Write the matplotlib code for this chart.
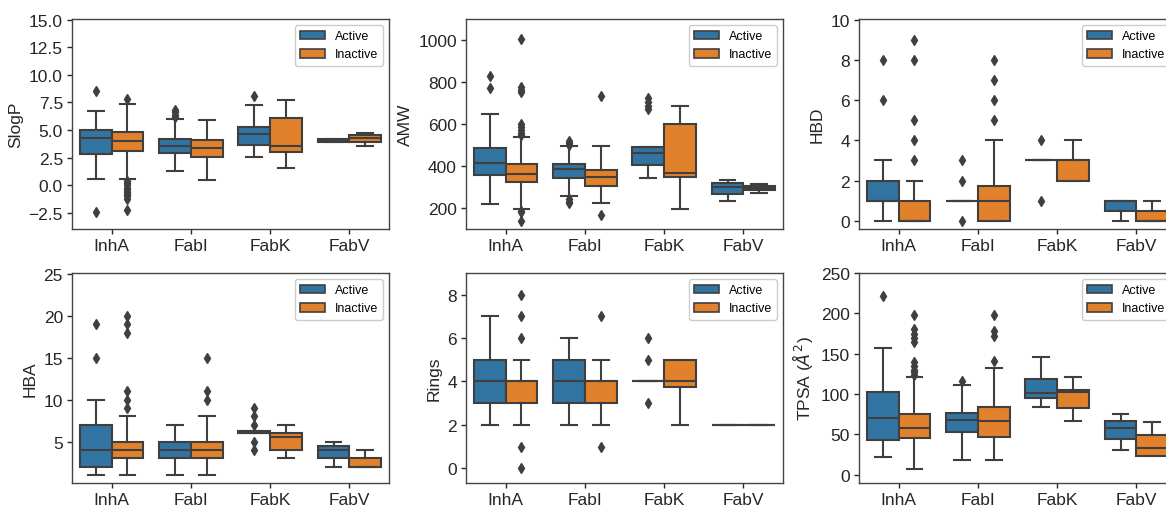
import matplotlib
matplotlib.use("Agg")
import matplotlib.pyplot as plt
from matplotlib.patches import Patch

plt.rcParams["font.family"] = ["Liberation Sans", "DejaVu Sans"]

TARGETS = ["InhA", "FabI", "FabK", "FabV"]
HUES = ["Active", "Inactive"]

# per target: q1, median, q3, whisker low, whisker high
slogp_act = [[2.87, 4.27, 5.05, 0.56, 6.71], [2.94, 3.57, 4.20, 1.34, 5.98],
             [3.63, 4.68, 5.32, 2.57, 7.28], [3.95, 4.05, 4.15, 3.95, 4.15]]
slogp_inact = [[3.09, 4.00, 4.84, 0.56, 7.37], [2.57, 3.36, 4.14, 0.46, 5.95],
               [3.00, 3.60, 6.08, 1.61, 7.73], [3.90, 4.27, 4.54, 3.60, 4.75]]
slogp_act_fl = [[8.5, -2.4], [6.2, 6.4, 6.6, 6.8], [8.1], []]
slogp_inact_fl = [[7.8, 0.4, 0.2, 0.0, -0.2, -0.4, -0.6, -0.8, -1.0, -1.2, -2.2], [], [], []]

amw_act = [[354, 411, 484, 218, 646], [343, 386, 407, 254, 492],
           [405, 462, 489, 340, 489], [265, 297, 318, 232, 332]]
amw_inact = [[321, 362, 408, 194, 537], [302, 348, 381, 221, 492],
             [346, 365, 597, 195, 684], [283, 294, 305, 271, 314]]
amw_act_fl = [[826, 770], [500, 510, 520, 240, 228, 222], [670, 685, 705, 723], []]
amw_inact_fl = [[1003, 773, 760, 750, 600, 585, 570, 555, 545, 186, 180, 138],
                [733, 165], [], []]

hbd_act = [[1, 1, 2, 0, 3], [1, 1, 1, 1, 1], [3, 3, 3, 3, 3], [0.5, 1, 1, 0, 1]]
hbd_inact = [[0, 0, 1, 0, 2], [0, 1, 1.75, 0, 4], [2, 3, 3, 2, 4], [0, 0, 0.5, 0, 1]]
hbd_act_fl = [[8, 6], [0, 2, 3], [4, 1], []]
hbd_inact_fl = [[9, 8, 5, 4, 3], [8, 7, 6, 5], [], []]

hba_act = [[2, 4, 7, 1, 10], [3, 4, 5, 1, 7], [6, 6, 6.25, 6, 6.25], [3, 4, 4.5, 2, 5]]
hba_inact = [[3, 4, 5, 1, 8], [3, 4, 5, 1, 8], [4, 5.5, 6, 3, 7], [2, 2, 3, 2, 4]]
hba_act_fl = [[19, 15], [], [9, 8, 7, 5, 4], []]
hba_inact_fl = [[20, 19, 18, 11, 10, 9], [15, 11, 10], [], []]

rings_act = [[3, 4, 5, 2, 7], [3, 4, 5, 2, 6], [4, 4, 4, 4, 4], [2, 2, 2, 2, 2]]
rings_inact = [[3, 4, 4, 2, 5], [3, 4, 4, 2, 5], [3.75, 4, 5, 2, 5], [2, 2, 2, 2, 2]]
rings_act_fl = [[], [], [6, 5, 3], []]
rings_inact_fl = [[8, 7, 6, 1, 0], [7, 1], [], []]

tpsa_act = [[43, 70.7, 102, 21.5, 156.7], [53, 67.4, 76.5, 18.6, 110.8],
            [95.5, 100.9, 118.6, 83.5, 145.5], [44.3, 58.3, 67, 30.6, 74.8]]
tpsa_inact = [[45, 58.3, 75.2, 7.5, 121], [47, 66, 83.5, 18.6, 132],
              [83, 103, 105.4, 67, 121], [22.8, 32.7, 48.8, 22.8, 65.7]]
tpsa_act_fl = [[221], [116.5], [], []]
tpsa_inact_fl = [[197.6, 180, 175, 170, 165, 140, 135, 130, 127, 124],
                 [197.6, 177.7, 171.5, 140.6], [], []]

BLUE = "#3274a1"
ORANGE = "#e1812c"
GRAY = "#3f3f3f"

panels = [
    ("SlogP", slogp_act, slogp_inact, slogp_act_fl, slogp_inact_fl,
     (-3.95, 15.05), [-2.5, 0, 2.5, 5, 7.5, 10, 12.5, 15], "{:.1f}"),
    ("AMW", amw_act, amw_inact, amw_act_fl, amw_inact_fl,
     (99, 1099), [200, 400, 600, 800, 1000], "{:.0f}"),
    ("HBD", hbd_act, hbd_inact, hbd_act_fl, hbd_inact_fl,
     (-0.41, 10.03), [0, 2, 4, 6, 8, 10], "{:.0f}"),
    ("HBA", hba_act, hba_inact, hba_act_fl, hba_inact_fl,
     (0.06, 25.1), [5, 10, 15, 20, 25], "{:.0f}"),
    ("Rings", rings_act, rings_inact, rings_act_fl, rings_inact_fl,
     (-0.68, 9.0), [0, 2, 4, 6, 8], "{:.0f}"),
    (r"TPSA ($\AA^2$)", tpsa_act, tpsa_inact, tpsa_act_fl, tpsa_inact_fl,
     (-10.3, 250), [0, 50, 100, 150, 200, 250], "{:.0f}"),
]


def make_stats(rows, fliers):
    out = []
    for (q1, med, q3, lo, hi), fl in zip(rows, fliers):
        out.append({"q1": q1, "med": med, "q3": q3, "whislo": lo, "whishi": hi, "fliers": fl})
    return out


W, H = 1166, 506
fig = plt.figure(figsize=(W / 100, H / 100), dpi=100)
lefts = [72, 466, 859]
tops = [20, 274]

for k, (label, act, inact, act_fl, inact_fl, ylim, yticks, fmt) in enumerate(panels):
    r, c = divmod(k, 3)
    # right column runs past the figure edge, as in the cropped original
    ax = fig.add_axes([lefts[c] / W, (H - tops[r] - 210) / H, 317 / W, 210 / H])

    for hue_i, (rows, fl, color) in enumerate([(act, act_fl, BLUE), (inact, inact_fl, ORANGE)]):
        pos = [i - 0.2 + 0.4 * hue_i for i in range(len(TARGETS))]
        ax.bxp(make_stats(rows, fl), positions=pos, widths=0.4, patch_artist=True,
               manage_ticks=False,
               boxprops=dict(facecolor=color, edgecolor=GRAY, linewidth=1.5),
               medianprops=dict(color=GRAY, linewidth=1.5),
               whiskerprops=dict(color=GRAY, linewidth=1.5),
               capprops=dict(color=GRAY, linewidth=1.5),
               flierprops=dict(marker="d", markerfacecolor=GRAY, markeredgecolor=GRAY,
                               markersize=5.5, linestyle="none"))

    ax.set_xlim(-0.5, 3.5)
    ax.set_xticks(range(len(TARGETS)))
    ax.set_xticklabels(TARGETS)
    ax.set_ylim(*ylim)
    ax.set_yticks(yticks)
    ax.set_yticklabels([fmt.format(v).replace("-", "\u2212") for v in yticks])
    ax.set_ylabel(label, fontsize=12.5, color="#262626", labelpad=4)
    ax.tick_params(labelsize=12.5, colors="#262626", length=3.5, width=1, pad=3)
    for sp in ax.spines.values():
        sp.set_color("#444444")
        sp.set_linewidth(1.0)

    handles = [Patch(facecolor=BLUE, edgecolor=GRAY, linewidth=1.2),
               Patch(facecolor=ORANGE, edgecolor=GRAY, linewidth=1.2)]
    ax.legend(handles, HUES, loc="upper right", fontsize=9, framealpha=1,
              edgecolor="#cccccc", fancybox=True)

fig.savefig("out.png", dpi=100)
